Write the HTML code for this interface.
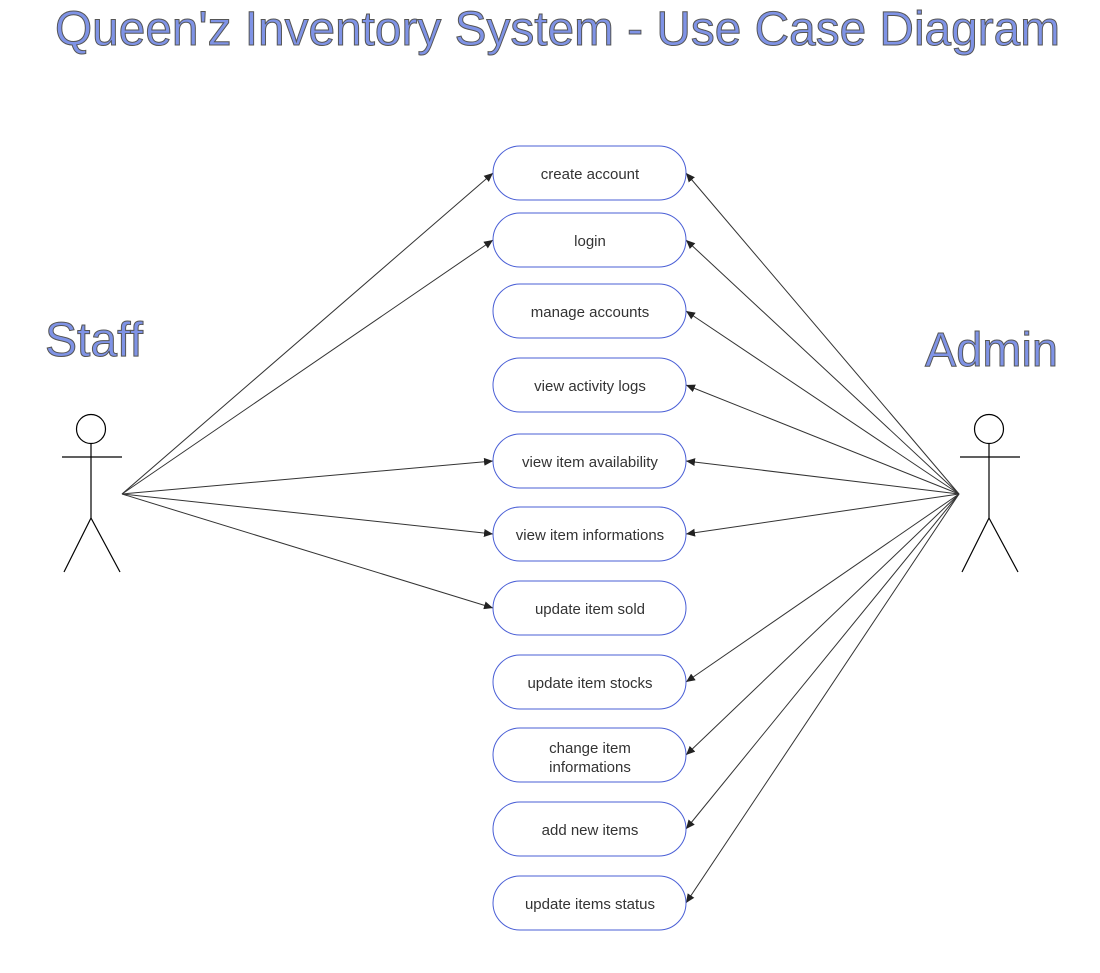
<!DOCTYPE html>
<html><head><meta charset="utf-8"><style>
html,body{margin:0;padding:0;background:#fff;}
svg{display:block;}
.t{font-family:"Liberation Sans",sans-serif;fill:#7f93e6;stroke:#555;stroke-width:1;}
.n{font-family:"Liberation Sans",sans-serif;font-size:15px;fill:#333;text-anchor:middle;}
</style></head><body>
<svg width="1100" height="973" viewBox="0 0 1100 973" xmlns="http://www.w3.org/2000/svg">
<defs><marker id="a" markerWidth="10" markerHeight="8" refX="9" refY="4" orient="auto" markerUnits="userSpaceOnUse"><path d="M0,0 L9,4 L0,8 Z" fill="#222"/></marker></defs>
<text class="t" x="55" y="45" font-size="48" textLength="1005" lengthAdjust="spacingAndGlyphs">Queen'z Inventory System - Use Case Diagram</text>
<text class="t" x="45" y="356" font-size="48" textLength="98" lengthAdjust="spacingAndGlyphs">Staff</text>
<text class="t" x="925" y="366" font-size="48" textLength="133" lengthAdjust="spacingAndGlyphs">Admin</text>
<g stroke="#000" stroke-width="1.2" fill="none">
<circle cx="91" cy="429" r="14.5" fill="#fff"/>
<line x1="91" y1="443" x2="91" y2="518"/><line x1="62" y1="457" x2="122" y2="457"/>
<line x1="91" y1="518" x2="64" y2="572"/><line x1="91" y1="518" x2="120" y2="572"/>
<circle cx="989" cy="429" r="14.5" fill="#fff"/>
<line x1="989" y1="443" x2="989" y2="518"/><line x1="960" y1="457" x2="1020" y2="457"/>
<line x1="989" y1="518" x2="962" y2="572"/><line x1="989" y1="518" x2="1018" y2="572"/>
</g>
<g stroke="#333" stroke-width="1" marker-end="url(#a)">
<line x1="122" y1="494" x2="493" y2="173"/>
<line x1="122" y1="494" x2="493" y2="240"/>
<line x1="122" y1="494" x2="493" y2="461"/>
<line x1="122" y1="494" x2="493" y2="534"/>
<line x1="122" y1="494" x2="493" y2="608"/>
<line x1="959" y1="494" x2="686" y2="173"/>
<line x1="959" y1="494" x2="686" y2="240"/>
<line x1="959" y1="494" x2="686" y2="311"/>
<line x1="959" y1="494" x2="686" y2="385"/>
<line x1="959" y1="494" x2="686" y2="461"/>
<line x1="959" y1="494" x2="686" y2="534"/>
<line x1="959" y1="494" x2="686" y2="682"/>
<line x1="959" y1="494" x2="686" y2="755"/>
<line x1="959" y1="494" x2="686" y2="829"/>
<line x1="959" y1="494" x2="686" y2="903"/>
</g>
<g fill="#fff" stroke="#4a5fd6" stroke-width="1">
<rect x="493" y="146" width="193" height="54" rx="27"/>
<rect x="493" y="213" width="193" height="54" rx="27"/>
<rect x="493" y="284" width="193" height="54" rx="27"/>
<rect x="493" y="358" width="193" height="54" rx="27"/>
<rect x="493" y="434" width="193" height="54" rx="27"/>
<rect x="493" y="507" width="193" height="54" rx="27"/>
<rect x="493" y="581" width="193" height="54" rx="27"/>
<rect x="493" y="655" width="193" height="54" rx="27"/>
<rect x="493" y="728" width="193" height="54" rx="27"/>
<rect x="493" y="802" width="193" height="54" rx="27"/>
<rect x="493" y="876" width="193" height="54" rx="27"/>
</g>
<g class="n">
<text x="590" y="179">create account</text>
<text x="590" y="246">login</text>
<text x="590" y="317">manage accounts</text>
<text x="590" y="391">view activity logs</text>
<text x="590" y="467">view item availability</text>
<text x="590" y="540">view item informations</text>
<text x="590" y="614">update item sold</text>
<text x="590" y="688">update item stocks</text>
<text x="590" y="753">change item</text>
<text x="590" y="772">informations</text>
<text x="590" y="835">add new items</text>
<text x="590" y="909">update items status</text>
</g>
</svg>
</body></html>
